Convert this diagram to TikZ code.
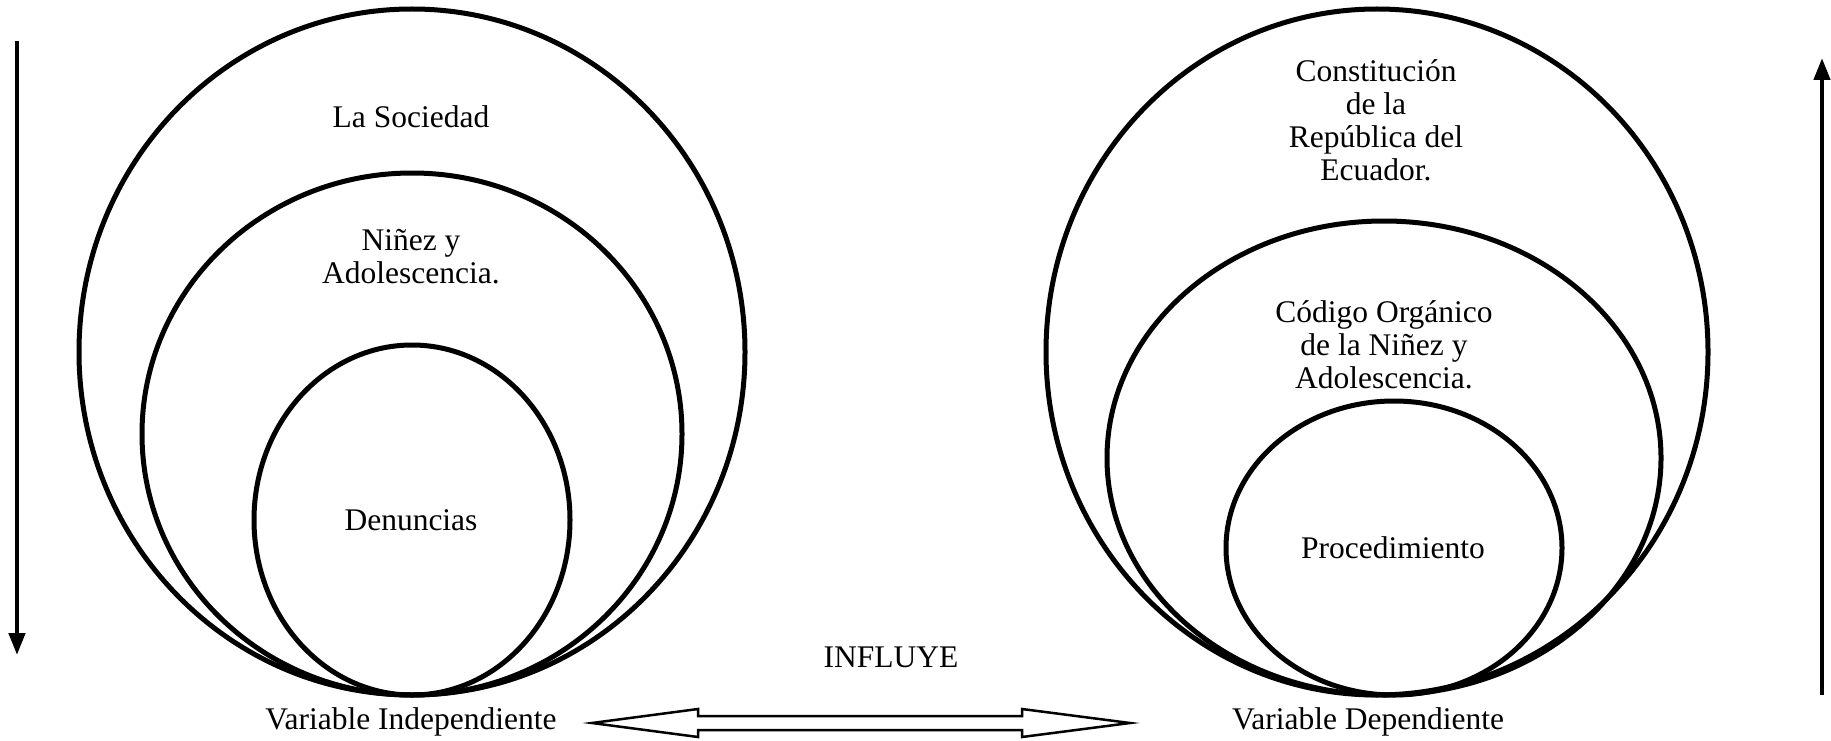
\documentclass[tikz,border=0pt]{standalone}
\usepackage{fontspec}
\setmainfont{Liberation Serif}
\usetikzlibrary{shapes.geometric,arrows.meta}
\tikzset{
  ring/.style={draw=black, line width=5pt, ellipse, inner sep=0pt},
  lbl/.style={align=center, inner sep=0pt, font=\fontsize{31.5}{33}\selectfont},
  vline/.style={line width=4.5pt, -{Triangle[width=16pt,length=22pt]}},
  hollow/.style={draw=black, line width=2.5pt, fill=white, line join=miter}
}
\begin{document}
\begin{tikzpicture}[x=1pt,y=-1pt]
\useasboundingbox (0,0) rectangle (1831,741);
% left group
\node[ring, minimum width=666pt, minimum height=686pt] (LO) at (412,352) {};
\node[ring, minimum width=540pt, minimum height=522pt] (LM) at (412,434) {};
\node[ring, minimum width=316pt, minimum height=350pt] (LI) at (412,520) {};
\node[lbl] (tLO) at (411,117) {La Sociedad};
\node[lbl] (tLM) at (411,257) {Niñez y\\Adolescencia.};
\node[lbl] (tLI) at (411,520) {Denuncias};
\node[lbl] (vi) at (411,722) {Variable Independiente};
% right group
\node[ring, minimum width=662pt, minimum height=686pt] (RO) at (1377,352) {};
\node[ring, minimum width=554pt, minimum height=474pt] (RM) at (1384,458) {};
\node[ring, minimum width=336pt, minimum height=294pt] (RI) at (1394,548) {};
\node[lbl] (tRO) at (1376,120) {Constitución\\de la\\República del\\Ecuador.};
\node[lbl] (tRM) at (1384,345) {Código Orgánico\\de la Niñez y\\Adolescencia.};
\node[lbl] (tRI) at (1393,548) {Procedimiento};
\node[lbl] (vd) at (1368,722) {Variable Dependiente};
% middle
\node[lbl] (infl) at (891,657) {INFLUYE};
\coordinate (Lt) at (592,723);
\coordinate (Rt) at (1130,723);
\draw[hollow] (Lt) -- ++(106,-14) -- ++(0,7) -- ++(324,0) -- ++(0,-7) -- (Rt)
  -- ++(-108,14) -- ++(0,-7) -- ++(-324,0) -- ++(0,7) -- cycle;
% side arrows
\coordinate (a1) at (17,41);
\coordinate (a2) at (17,655);
\draw[vline] (a1) -- (a2);
\coordinate (b1) at (1822,695);
\coordinate (b2) at (1822,58);
\draw[vline] (b1) -- (b2);
\end{tikzpicture}
\end{document}
